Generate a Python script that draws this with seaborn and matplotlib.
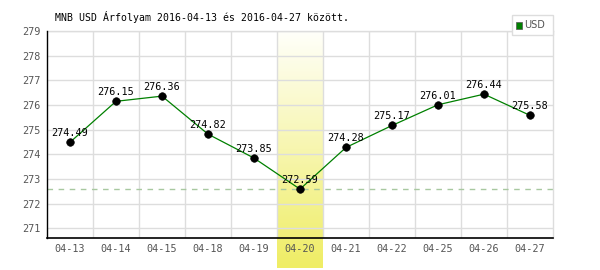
import matplotlib
matplotlib.use("Agg")
import matplotlib.pyplot as plt
import seaborn as sns
import numpy as np
import pandas as pd
from matplotlib.patches import Rectangle

dates = ["04-13", "04-14", "04-15", "04-18", "04-19", "04-20", "04-21", "04-22", "04-25", "04-26", "04-27"]
values = [274.49, 276.15, 276.36, 274.82, 273.85, 272.59, 274.28, 275.17, 276.01, 276.44, 275.58]
y_ticks = [271, 272, 273, 274, 275, 276, 277, 278, 279]
highlight = "04-20"
title = "MNB USD Árfolyam 2016-04-13 és 2016-04-27 között."
series_name = "USD"

sns.set_theme(style="white")
plt.rcParams['font.family'] = ['DejaVu Sans Mono', 'DejaVu Sans']

df = pd.DataFrame({"x": range(len(dates)), "v": values})

fig = plt.figure(figsize=(6, 2.7), dpi=100)
ax = fig.add_axes([47/600, 1 - 238/270, 506/600, (238 - 31)/270])
ax.set_xlim(-0.5, len(dates) - 0.5)
ax.set_ylim(270.61, 279)

# highlight gradient band
hi = dates.index(highlight)
grad = np.linspace(0, 1, 256).reshape(-1, 1)
top_c = np.array([255, 255, 250]) / 255
bot_c = np.array([239, 237, 100]) / 255
img = top_c[None, None, :] * (1 - grad[:, :, None]) + bot_c[None, None, :] * grad[:, :, None]
ax.imshow(img, extent=[hi - 0.5, hi + 0.5, 269.4, 279], aspect='auto', origin='upper',
          clip_on=False, zorder=0)

# grid
for yt in y_ticks:
    ax.axhline(yt, color="#dddddd", lw=1, zorder=1)
for i in range(len(dates) - 1):
    ax.axvline(i + 0.5, color="#dddddd", lw=1, zorder=1)

ax.axhline(min(values), color="#a8c8a0", lw=1, ls=(0, (4, 4)), zorder=2)

sns.lineplot(data=df, x="x", y="v", ax=ax, color="#008000", lw=0.9, zorder=3, legend=False)
sns.scatterplot(data=df, x="x", y="v", ax=ax, color="black", s=30, edgecolor="black", zorder=4, legend=False)

for i, v in enumerate(values):
    ax.annotate(f"{v:.2f}", (i, v), xytext=(0, 4.5), textcoords="offset points",
                ha="center", va="baseline", fontsize=7.3, color="black", zorder=5)

ax.set_xticks(range(len(dates)))
ax.set_xticklabels(dates)
ax.set_yticks(y_ticks)
ax.set_yticklabels([str(t) for t in y_ticks])
ax.tick_params(axis="both", labelsize=7.3, colors="#555555", length=0, pad=4.5)
ax.set_xlabel("")
ax.set_ylabel("")

ax.spines["top"].set_color("#dddddd")
ax.spines["right"].set_color("#dddddd")
ax.spines["top"].set_linewidth(1)
ax.spines["right"].set_linewidth(1)
ax.spines["left"].set_color("black")
ax.spines["bottom"].set_color("black")
ax.spines["left"].set_linewidth(1)
ax.spines["bottom"].set_linewidth(1.2)
for s in ["left", "bottom"]:
    ax.spines[s].set_zorder(6)

fig.text(55/600, 1 - 17/270, title, fontsize=7.1, color="black", va="center", ha="left")

# legend box
fig.patches.append(Rectangle((512/600, 1 - 35/270), 41/600, 20/270, transform=fig.transFigure,
                             facecolor="white", edgecolor="#dddddd", lw=1))
fig.patches.append(Rectangle((516/600, 1 - 28.5/270), 6/600, 6/270, transform=fig.transFigure,
                             facecolor="#008000", edgecolor="#555555", lw=0.5))
fig.text(524/600, 1 - 25.5/270, series_name, fontsize=7, color="#555555", va="center", ha="left",
         family=['DejaVu Sans'])

fig.savefig("out.png", dpi=100)
